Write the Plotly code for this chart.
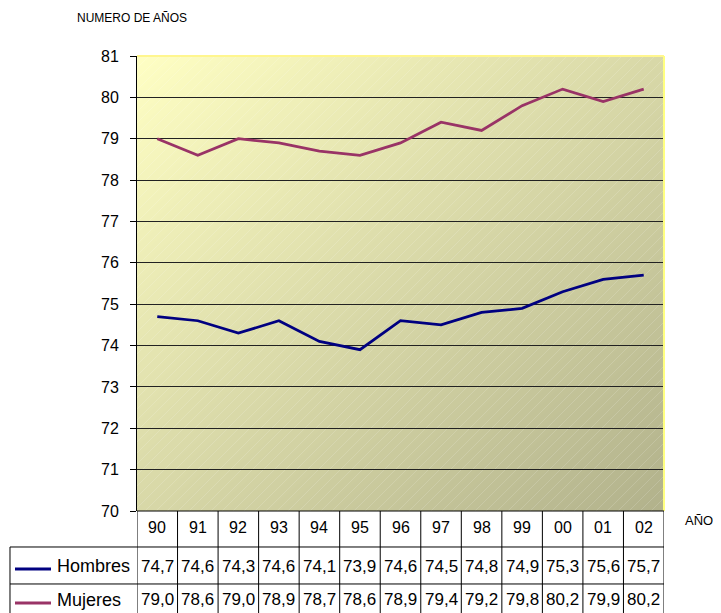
import numpy as np
import zlib
import struct
import base64
import plotly.graph_objects as go

# ---------------- data ----------------
years = ["90", "91", "92", "93", "94", "95", "96", "97", "98", "99", "00", "01", "02"]
hombres = [74.7, 74.6, 74.3, 74.6, 74.1, 73.9, 74.6, 74.5, 74.8, 74.9, 75.3, 75.6, 75.7]
mujeres = [79.0, 78.6, 79.0, 78.9, 78.7, 78.6, 78.9, 79.4, 79.2, 79.8, 80.2, 79.9, 80.2]
series_names = ["Hombres", "Mujeres"]
y_ticks = list(range(70, 82))

C_H = "#000080"
C_M = "#993366"
FONT = "Arial, Liberation Sans, sans-serif"

# ---------------- gradient background (PNG built in memory) ----------------
W, H = 527, 455
yy, xx = np.mgrid[0:H, 0:W]
t = (xx / (W - 1) + yy / (H - 1)) / 2.0
c0 = np.array([255.0, 255.0, 196.0])
c1 = np.array([178.0, 178.0, 140.0])
img = c0[None, None, :] * (1 - t[..., None]) + c1[None, None, :] * t[..., None]
hatch = ((xx + yy) % 11) == 0
img[hatch] = img[hatch] * 0.85 + 255 * 0.15
img = img.clip(0, 255).astype(np.uint8)
raw = b"".join(b"\x00" + img[r].tobytes() for r in range(H))


def chunk(tag, data):
    return struct.pack(">I", len(data)) + tag + data + struct.pack(">I", zlib.crc32(tag + data) & 0xFFFFFFFF)


png = (b"\x89PNG\r\n\x1a\n"
       + chunk(b"IHDR", struct.pack(">IIBBBBB", W, H, 8, 2, 0, 0, 0))
       + chunk(b"IDAT", zlib.compress(raw, 9))
       + chunk(b"IEND", b""))
src = "data:image/png;base64," + base64.b64encode(png).decode()

# ---------------- figure ----------------
fig = go.Figure()
fig.add_trace(go.Scatter(x=years, y=hombres, mode="lines", name="Hombres",
                         line=dict(color=C_H, width=2.75), showlegend=False))
fig.add_trace(go.Scatter(x=years, y=mujeres, mode="lines", name="Mujeres",
                         line=dict(color=C_M, width=2.75), showlegend=False))

shapes = []
annotations = []

# plot border highlights (yellow top / right)
shapes.append(dict(type="line", xref="paper", yref="paper", x0=0, x1=1, y0=1, y1=1,
                   line=dict(color="#FFF68F", width=2), layer="above"))
shapes.append(dict(type="line", xref="paper", yref="paper", x0=1, x1=1, y0=0, y1=1,
                   line=dict(color="#FFFF80", width=2), layer="above"))

# data table
n = len(years)
Y_ROW1 = -0.0791   # header / Hombres boundary
Y_ROW2 = -0.1604   # Hombres / Mujeres boundary
Y_BOT = -0.26
X_LEFT = -0.241

for k in range(n + 1):
    shapes.append(dict(type="line", xref="x", yref="paper", x0=k - 0.5, x1=k - 0.5,
                       y0=0, y1=Y_BOT, line=dict(color="black", width=1)))
for yv in (0, Y_ROW1, Y_ROW2):
    shapes.append(dict(type="line", xref="paper", yref="paper",
                       x0=(X_LEFT if yv != 0 else 0), x1=1, y0=yv, y1=yv,
                       line=dict(color="black", width=1)))
shapes.append(dict(type="line", xref="paper", yref="paper", x0=X_LEFT, x1=X_LEFT,
                   y0=Y_ROW1, y1=Y_BOT, line=dict(color="black", width=1)))

# legend keys in table
for yv, col in ((-0.1275, C_H), (-0.2022, C_M)):
    shapes.append(dict(type="line", xref="paper", yref="paper", x0=-0.2315, x1=-0.1632,
                       y0=yv, y1=yv, line=dict(color=col, width=3)))
for name, yv in zip(series_names, (-0.1209, -0.1956)):
    annotations.append(dict(text=name, xref="paper", yref="paper", x=-0.1556, y=yv,
                            xanchor="left", yanchor="middle", showarrow=False,
                            font=dict(family=FONT, size=18, color="black")))

for i, yr in enumerate(years):
    annotations.append(dict(text=yr, xref="x", yref="paper", x=i, y=-0.0363,
                            xanchor="center", yanchor="middle", showarrow=False,
                            font=dict(family=FONT, size=16, color="black")))
    for vals, yv in ((hombres, -0.1209), (mujeres, -0.1956)):
        annotations.append(dict(text=f"{vals[i]:.1f}".replace(".", ","), xref="x", yref="paper",
                                x=i, y=yv, xanchor="center", yanchor="middle", showarrow=False,
                                font=dict(family=FONT, size=17, color="black")))

# titles
annotations.append(dict(text="NUMERO DE AÑOS", xref="paper", yref="paper", x=-0.1176, y=1.0835,
                        xanchor="left", yanchor="middle", showarrow=False,
                        font=dict(family=FONT, size=12, color="black")))
annotations.append(dict(text="AÑO", xref="paper", yref="paper", x=1.036, y=-0.0198,
                        xanchor="left", yanchor="middle", showarrow=False,
                        font=dict(family=FONT, size=13, color="black")))

# the page body adds an 8px margin, so the figure is 8px smaller and margins shifted
fig.update_layout(
    width=713, height=605,
    margin=dict(l=129, r=57, t=48, b=102),
    paper_bgcolor="white",
    plot_bgcolor="white",
    font=dict(family=FONT, size=16, color="black"),
    shapes=shapes,
    annotations=annotations,
    images=[dict(source=src, xref="paper", yref="paper", x=0, y=1, sizex=1, sizey=1,
                 xanchor="left", yanchor="top", sizing="stretch", layer="below")],
    xaxis=dict(type="category", range=[-0.5, n - 0.5], showticklabels=False,
               showgrid=False, zeroline=False, ticks="", showline=False),
    yaxis=dict(range=[70, 81], tickvals=y_ticks, showgrid=True, gridcolor="#222222",
               gridwidth=1, zeroline=False, showline=True, linecolor="black", linewidth=1,
               ticks="outside", ticklen=6, tickcolor="black", ticklabelstandoff=8,
               tickfont=dict(family=FONT, size=16, color="black")),
    showlegend=False,
)

fig.write_html("out.html")
